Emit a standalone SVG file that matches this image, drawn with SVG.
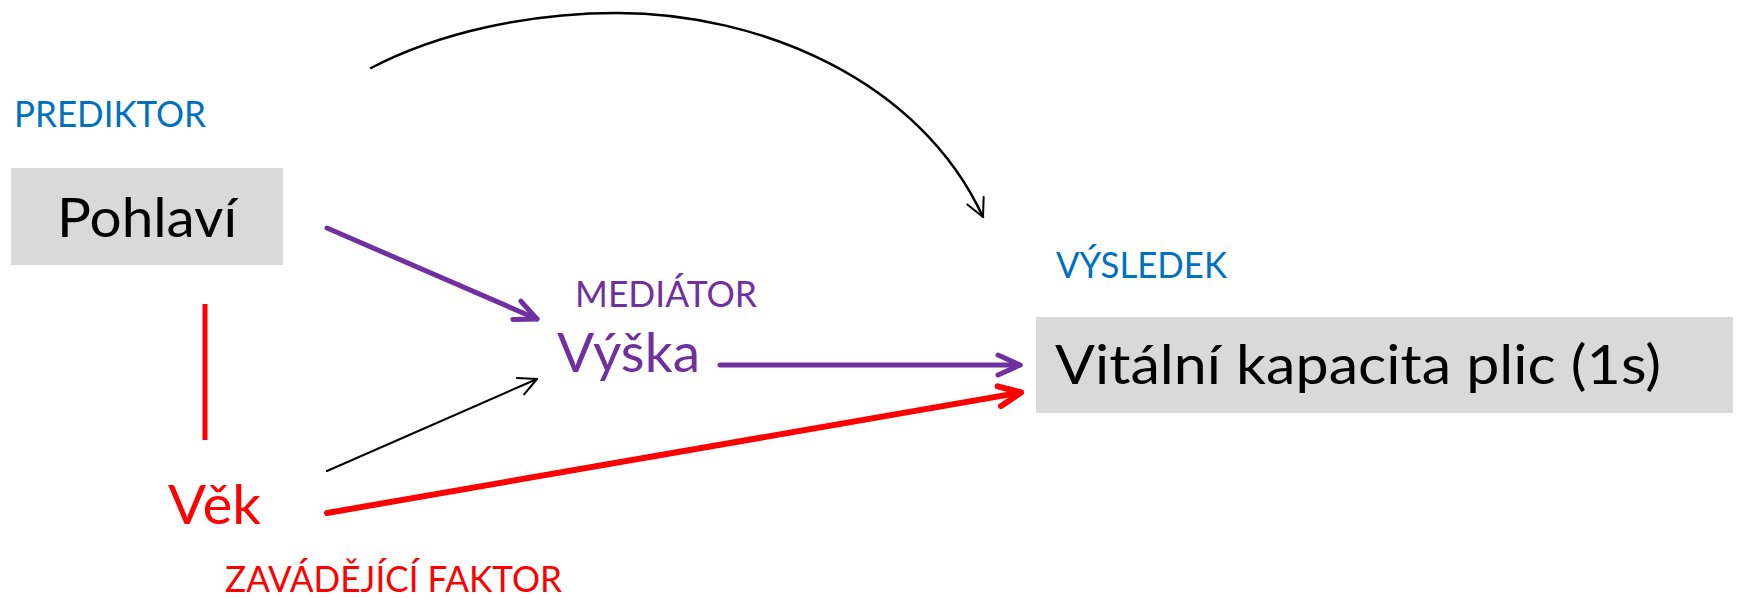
<svg xmlns="http://www.w3.org/2000/svg" width="1739" height="599" viewBox="0 0 1739 599">
  <style>
    text { font-family: Lato, "Open Sans", "Liberation Sans", sans-serif; }
    .box { fill: #D9D9D9; }
    .blue { fill: #0070C0; }
    .purple { fill: #7030A0; }
    .red { fill: #FF0000; }
    .black { fill: #000000; }
    .label { font-size: 36px; }
    .big { font-size: 55px; }
    .conn { fill: none; stroke-linecap: round; }
  </style>
  <defs>
    <marker id="arrPurple" markerUnits="userSpaceOnUse" orient="auto" refX="0" refY="0" viewBox="-30 -15 36 30" markerWidth="36" markerHeight="30" overflow="visible">
      <path d="M-22,-10 L0,0 L-22,10" fill="none" stroke="#7030A0" stroke-width="5" stroke-linecap="round" stroke-linejoin="round"/>
    </marker>
    <marker id="arrRed" markerUnits="userSpaceOnUse" orient="auto" refX="0" refY="0" viewBox="-30 -15 36 30" markerWidth="36" markerHeight="30" overflow="visible">
      <path d="M-22,-10 L0,0 L-22,10" fill="none" stroke="#FF0000" stroke-width="6" stroke-linecap="round" stroke-linejoin="round"/>
    </marker>
    <marker id="arrBlack" markerUnits="userSpaceOnUse" orient="auto" refX="0" refY="0" viewBox="-25 -12 30 24" markerWidth="30" markerHeight="24" overflow="visible">
      <path d="M-18,-9 L0,0 L-18,9" fill="none" stroke="#000000" stroke-width="2" stroke-linecap="round" stroke-linejoin="round"/>
    </marker>
  </defs>

  <g id="connectors">
    <path class="conn" d="M371,68 C440,32 530,13 617,13 C760,13 920,80 983,217" stroke="#000000" stroke-width="2.5" marker-end="url(#arrBlack)"/>
    <line class="conn" x1="327" y1="228" x2="537" y2="319" stroke="#7030A0" stroke-width="5" marker-end="url(#arrPurple)"/>
    <line class="conn" x1="720" y1="365" x2="1020" y2="365" stroke="#7030A0" stroke-width="5" marker-end="url(#arrPurple)"/>
    <line x1="205" y1="304" x2="205" y2="440" stroke="#FF0000" stroke-width="5"/>
    <line class="conn" x1="327" y1="471" x2="537" y2="379" stroke="#000000" stroke-width="2" marker-end="url(#arrBlack)"/>
    <line class="conn" x1="327" y1="513" x2="1021" y2="392.5" stroke="#FF0000" stroke-width="6" marker-end="url(#arrRed)"/>
  </g>

  <g id="node-pohlavi">
    <text class="label blue" x="14" y="127" textLength="192" lengthAdjust="spacingAndGlyphs">PREDIKTOR</text>
    <rect class="box" x="11" y="168" width="272" height="97"/>
    <text class="big black" x="57" y="237" textLength="180" lengthAdjust="spacingAndGlyphs">Pohlaví</text>
  </g>

  <g id="node-vyska">
    <text class="label purple" x="575" y="307" textLength="182" lengthAdjust="spacingAndGlyphs">MEDIÁTOR</text>
    <text class="big purple" x="557" y="372" font-size="56" textLength="143" lengthAdjust="spacingAndGlyphs">Výška</text>
  </g>

  <g id="node-vek">
    <text class="big red" x="168" y="524" font-size="57" textLength="93" lengthAdjust="spacingAndGlyphs">Věk</text>
    <text class="label red" x="225" y="592" font-size="35" textLength="337" lengthAdjust="spacingAndGlyphs">ZAVÁDĚJÍCÍ FAKTOR</text>
  </g>

  <g id="node-vitalni">
    <text class="label blue" x="1056" y="278" textLength="171" lengthAdjust="spacingAndGlyphs">VÝSLEDEK</text>
    <rect class="box" x="1036" y="317" width="697" height="96"/>
    <text class="big black" x="1055" y="384" textLength="606" lengthAdjust="spacingAndGlyphs">Vitální kapacita plic (1s)</text>
  </g>
</svg>
